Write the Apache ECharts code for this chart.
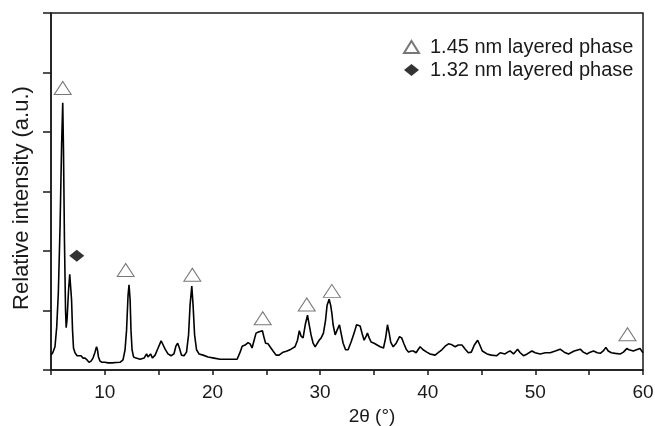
<!DOCTYPE html>
<html>
<head>
<meta charset="utf-8">
<script src="https://cdn.jsdelivr.net/npm/echarts@6/dist/echarts.min.js"></script>
<style>
  html, body { margin: 0; padding: 0; background: #fff; }
  #chart { width: 655px; height: 426px; }
</style>
</head>
<body>
<div id="chart"></div>
<script>
// XRD pattern, 2θ in degrees vs relative intensity (a.u.)
var twoTheta = [
  5.0, 5.16, 5.37, 5.53, 5.68, 5.84, 5.99, 6.09, 6.16, 6.25, 6.35, 6.41, 6.49, 6.63, 6.74, 6.81, 6.91, 7.0, 7.09, 7.23,
  7.42, 7.6, 7.79, 7.97, 8.16, 8.35, 8.53, 8.72, 8.9, 9.09, 9.23, 9.32, 9.41, 9.55, 9.74, 10.02, 10.3, 10.67, 11.04, 11.41,
  11.69, 11.88, 12.02, 12.16, 12.25, 12.35, 12.43, 12.53, 12.67, 12.9, 13.28, 13.65, 13.88, 14.01, 14.25, 14.43, 14.67, 14.95, 15.23, 15.42,
  15.6, 15.87, 16.15, 16.42, 16.6, 16.77, 16.93, 17.12, 17.36, 17.59, 17.78, 17.92, 18.08, 18.2, 18.34, 18.52, 18.75, 19.13, 19.59, 20.15,
  20.71, 21.26, 21.82, 22.29, 22.57, 22.76, 23.03, 23.31, 23.5, 23.68, 23.87, 24.05, 24.27, 24.42, 24.64, 24.8, 24.94, 25.17, 25.35, 25.63,
  25.91, 26.19, 26.56, 26.93, 27.3, 27.67, 27.9, 28.07, 28.23, 28.42, 28.62, 28.83, 28.99, 29.16, 29.35, 29.54, 29.72, 29.91, 30.1, 30.31,
  30.51, 30.65, 30.84, 30.98, 31.09, 31.21, 31.4, 31.58, 31.8, 31.95, 32.14, 32.37, 32.6, 32.88, 33.16, 33.39, 33.56, 33.72, 33.91, 34.09,
  34.28, 34.4, 34.56, 34.74, 35.02, 35.3, 35.58, 35.89, 36.09, 36.26, 36.42, 36.56, 36.79, 37.07, 37.38, 37.58, 37.77, 38.0, 38.23, 38.46,
  38.67, 38.92, 39.1, 39.29, 39.57, 39.91, 40.22, 40.69, 40.97, 41.31, 41.62, 41.93, 42.18, 42.55, 42.84, 43.18, 43.49, 43.77, 44.05, 44.33,
  44.64, 44.84, 45.07, 45.51, 45.91, 46.42, 46.73, 46.89, 47.19, 47.42, 47.65, 47.97, 48.35, 48.59, 48.9, 49.24, 49.68, 49.98, 50.45, 50.92,
  51.38, 51.85, 52.3, 52.68, 53.08, 53.61, 54.17, 54.45, 54.79, 55.09, 55.4, 55.75, 56.03, 56.31, 56.55, 56.77, 57.06, 57.43, 57.9, 58.18,
  58.49, 58.7, 59.1, 59.4, 59.72, 60.0
];
var intensity = [
  0.25, 0.29, 0.39, 0.72, 1.29, 2.40, 3.82, 4.49, 3.70, 2.18, 1.01, 0.71, 0.84, 1.34, 1.61, 1.58, 1.18, 0.67, 0.37, 0.29,
  0.24, 0.25, 0.24, 0.20, 0.20, 0.17, 0.13, 0.15, 0.20, 0.30, 0.39, 0.34, 0.22, 0.15, 0.13, 0.13, 0.12, 0.12, 0.125, 0.13,
  0.17, 0.34, 0.67, 1.26, 1.43, 1.18, 0.67, 0.34, 0.22, 0.20, 0.18, 0.20, 0.27, 0.22, 0.27, 0.20, 0.25, 0.37, 0.49, 0.42,
  0.35, 0.27, 0.24, 0.27, 0.40, 0.45, 0.37, 0.25, 0.24, 0.30, 0.59, 1.09, 1.41, 1.09, 0.59, 0.34, 0.27, 0.25, 0.22, 0.20,
  0.18, 0.18, 0.18, 0.18, 0.30, 0.40, 0.42, 0.46, 0.44, 0.37, 0.50, 0.62, 0.64, 0.61, 0.66, 0.54, 0.45, 0.44, 0.39, 0.32,
  0.25, 0.25, 0.30, 0.32, 0.35, 0.39, 0.50, 0.66, 0.57, 0.54, 0.76, 0.92, 0.76, 0.59, 0.45, 0.39, 0.40, 0.50, 0.54, 0.62,
  0.84, 1.09, 1.19, 1.09, 0.96, 0.76, 0.59, 0.67, 0.76, 0.62, 0.45, 0.34, 0.34, 0.47, 0.62, 0.76, 0.79, 0.74, 0.61, 0.50,
  0.57, 0.62, 0.54, 0.47, 0.45, 0.42, 0.39, 0.37, 0.54, 0.76, 0.62, 0.47, 0.39, 0.45, 0.56, 0.54, 0.45, 0.35, 0.30, 0.32,
  0.32, 0.29, 0.34, 0.39, 0.34, 0.30, 0.27, 0.25, 0.29, 0.34, 0.40, 0.44, 0.43, 0.39, 0.42, 0.42, 0.35, 0.29, 0.30, 0.42,
  0.50, 0.42, 0.32, 0.27, 0.25, 0.24, 0.29, 0.30, 0.27, 0.30, 0.32, 0.27, 0.35, 0.29, 0.24, 0.27, 0.32, 0.29, 0.27, 0.29,
  0.29, 0.32, 0.35, 0.30, 0.27, 0.32, 0.35, 0.30, 0.27, 0.30, 0.32, 0.29, 0.28, 0.32, 0.38, 0.32, 0.29, 0.28, 0.27, 0.30,
  0.36, 0.34, 0.32, 0.34, 0.36, 0.29
];

// peak markers
var tri2Theta = [6.09, 11.94, 18.13, 24.67, 28.76, 31.09, 58.56];
var triHeight = [4.74, 1.68, 1.60, 0.87, 1.10, 1.33, 0.60];
var dia2Theta = [7.39];
var diaHeight = [1.92];

var phaseNames = ['1.45 nm layered phase', '1.32 nm layered phase'];

var font = 'Liberation Sans, Arial, Helvetica, sans-serif';
var ink = '#1a1a1a';

function pairs(xs, ys) {
  return xs.map(function (x, i) { return [x, ys[i]]; });
}

var chart = echarts.init(document.getElementById('chart'), null, { renderer: 'canvas' });
chart.setOption({
  animation: false,
  backgroundColor: '#fff',
  textStyle: { fontFamily: font },
  grid: {
    left: 51, right: 12, top: 13, bottom: 56,
    outerBoundsMode: 'none', containLabel: false,
    // boxed frame
    show: true, borderColor: ink, borderWidth: 1.5, backgroundColor: 'transparent'
  },
  legend: {
    orient: 'vertical',
    left: 398,
    top: 32,
    itemWidth: 15,
    itemHeight: 12,
    itemGap: 3,
    selectedMode: false,
    textStyle: { fontSize: 20, color: ink, fontFamily: font, padding: [0, 0, 0, 6] },
    data: [
      { name: phaseNames[0], icon: 'triangle' },
      { name: phaseNames[1], icon: 'diamond' }
    ]
  },
  xAxis: {
    type: 'value',
    min: 5, max: 60, interval: 5,
    splitLine: { show: false },
    axisLine: { onZero: false, lineStyle: { color: ink, width: 1.5 } },
    axisTick: { length: 5, lineStyle: { color: ink, width: 1.5 } },
    axisLabel: {
      fontSize: 19, color: ink, margin: 13, fontFamily: font,
      formatter: function (v) { return v % 10 === 0 ? String(v) : ''; }
    },
    name: '2θ (°)', nameLocation: 'middle', nameGap: 34,
    nameTextStyle: { fontSize: 19, color: ink, fontFamily: font, padding: [0, 0, 0, 50] }
  },
  yAxis: {
    type: 'value',
    min: 0, max: 6, interval: 1,
    splitLine: { show: false },
    axisLine: { show: true, onZero: false, lineStyle: { color: ink, width: 1.5 } },
    axisTick: { show: true, length: 8, lineStyle: { color: ink, width: 1.5 } },
    axisLabel: { show: false },
    name: 'Relative intensity (a.u.)', nameLocation: 'middle', nameGap: 18,
    nameTextStyle: { fontSize: 22, color: ink, fontFamily: font, padding: [0, 13, 0, 0] }
  },
  series: [
    {
      name: 'pattern',
      type: 'line',
      data: pairs(twoTheta, intensity),
      showSymbol: false,
      lineStyle: { color: '#000', width: 1.6 },
      z: 2
    },
    {
      name: phaseNames[0],
      type: 'scatter',
      data: pairs(tri2Theta, triHeight),
      symbol: 'triangle',
      symbolSize: [17, 13],
      itemStyle: { color: '#fff', borderColor: '#555', borderWidth: 1 },
      z: 3
    },
    {
      name: phaseNames[1],
      type: 'scatter',
      data: pairs(dia2Theta, diaHeight),
      symbol: 'diamond',
      symbolSize: [15, 12],
      itemStyle: { color: '#000' },
      z: 3
    }
  ]
});
</script>
</body>
</html>
